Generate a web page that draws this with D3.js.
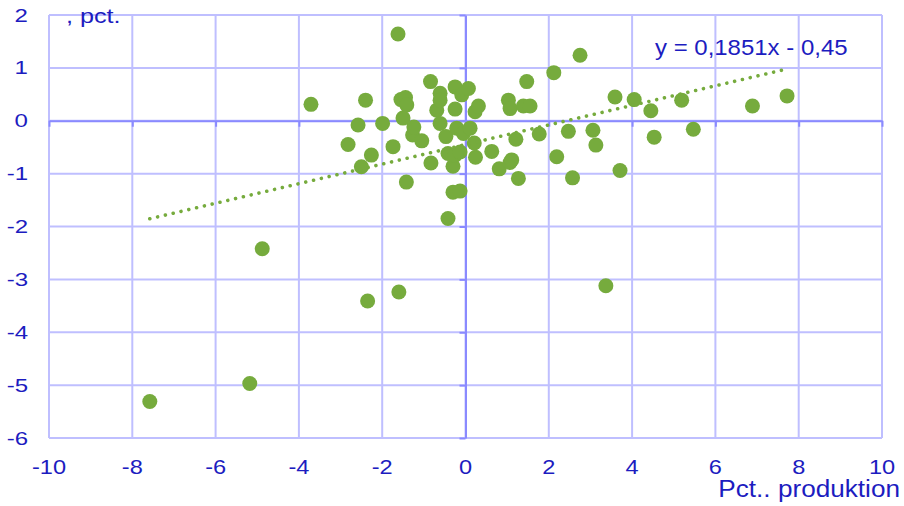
<!DOCTYPE html>
<html>
<head>
<meta charset="utf-8">
<script src="https://cdn.jsdelivr.net/npm/d3@7"></script>
<style>
  body { margin: 0; background: #fff; }
  text { font-family: "Liberation Sans", Arial, sans-serif; fill: #1c1cc0; }
</style>
</head>
<body>
<div id="chart"></div>
<script>
const MARGIN = { TOP: 15, BOTTOM: 68, LEFT: 49, RIGHT: 22 };
const WIDTH = 904;
const HEIGHT = 506;
const INNER_WIDTH = WIDTH - MARGIN.LEFT - MARGIN.RIGHT;
const INNER_HEIGHT = HEIGHT - MARGIN.TOP - MARGIN.BOTTOM;

// production change (x) vs. change (y), pct.
const xValues = [
    -7.58, -5.18, -4.88, -3.71, -2.82, -2.58, -2.50, -2.40, -2.35, -2.26,
    -1.99, -1.74, -1.62, -1.60, -1.55, -1.50, -1.44, -1.42, -1.41, -1.27,
    -1.24, -1.05, -0.84, -0.83, -0.69, -0.61, -0.61, -0.61, -0.47, -0.42,
    -0.42, -0.30, -0.30, -0.25, -0.25, -0.25, -0.21, -0.13, -0.13, -0.09,
    -0.05, 0.07, 0.11, 0.21, 0.23, 0.24, 0.31, 0.63, 0.81, 1.03,
    1.07, 1.07, 1.11, 1.21, 1.27, 1.39, 1.47, 1.55, 1.77, 2.12,
    2.19, 2.47, 2.57, 2.75, 3.06, 3.13, 3.37, 3.59, 3.71, 4.05,
    4.45, 4.53, 5.19, 5.47, 6.89, 7.72,
];
const yValues = [
    -5.31, -4.97, -2.42, 0.31, -0.45, -0.08, -0.87, 0.39, -3.41, -0.65,
    -0.05, -0.49, 1.64, -3.24, 0.40, 0.05, 0.44, -1.16, 0.30, -0.27,
    -0.12, -0.38, 0.74, -0.80, 0.20, 0.52, 0.39, -0.05, -0.30, -0.62,
    -1.85, -0.86, -1.35, 0.64, 0.22, -0.65, -0.14, -0.59, -1.33, 0.49,
    -0.24, 0.61, -0.14, -0.42, 0.17, -0.69, 0.28, -0.58, -0.91, 0.39,
    0.23, -0.79, -0.74, -0.35, -1.09, 0.28, 0.74, 0.28, -0.25, 0.91,
    -0.68, -0.20, -1.08, 1.24, -0.18, -0.46, -3.12, 0.45, -0.94, 0.40,
    0.19, -0.31, 0.39, -0.16, 0.28, 0.47,
];

const xTicks = [-10, -8, -6, -4, -2, 0, 2, 4, 6, 8, 10];
const yTicks = [-6, -5, -4, -3, -2, -1, 0, 1, 2];

// linear trendline shown on the chart
const SLOPE = 0.1851;
const INTERCEPT = -0.45;
const trendLabel = 'y = 0,1851x - 0,45';
const xTitle = 'Pct.. produktion';
const yTitle = ', pct.';

const GRID = '#bfbfff';
const AXIS = '#8a8aff';
const GREEN = '#76ab3d';

const data = xValues.map((x, i) => ({ x, y: yValues[i] }));

const xScale = d3.scaleLinear().domain([-10, 10]).range([0, INNER_WIDTH]);
const yScale = d3.scaleLinear().domain([-6, 2]).range([INNER_HEIGHT, 0]);

const svg = d3.select('#chart')
    .append('svg')
    .attr('width', WIDTH)
    .attr('height', HEIGHT);

const g = svg.append('g')
    .attr('transform', `translate(${MARGIN.LEFT}, ${MARGIN.TOP})`);

// grid
g.append('g').selectAll('line').data(xTicks).join('line')
    .attr('x1', (d) => xScale(d)).attr('x2', (d) => xScale(d))
    .attr('y1', 0).attr('y2', INNER_HEIGHT)
    .attr('stroke', GRID).attr('stroke-width', 2);

g.append('g').selectAll('line').data(yTicks).join('line')
    .attr('x1', 0).attr('x2', INNER_WIDTH)
    .attr('y1', (d) => yScale(d)).attr('y2', (d) => yScale(d))
    .attr('stroke', GRID).attr('stroke-width', 2);

// axes crossing at 0
const xAxisGroup = g.append('g')
    .attr('transform', `translate(0, ${yScale(0)})`)
    .call(d3.axisBottom(xScale).tickValues(xTicks).tickSize(6).tickSizeOuter(0).tickFormat(''));

const yAxisGroup = g.append('g')
    .attr('transform', `translate(${xScale(0)}, 0)`)
    .call(d3.axisLeft(yScale).tickValues(yTicks).tickSize(6).tickSizeOuter(0).tickFormat(''));

[xAxisGroup, yAxisGroup].forEach((axis) => {
    axis.selectAll('path, line').attr('stroke', AXIS).attr('stroke-width', 2);
});

// tick labels
g.append('g').selectAll('text').data(xTicks).join('text')
    .attr('transform', (d) => `translate(${xScale(d)}, ${INNER_HEIGHT + 35.5}) scale(1.15, 1)`)
    .attr('text-anchor', 'middle')
    .style('font-size', '20.5px')
    .text((d) => String(d));

g.append('g').selectAll('text').data(yTicks).join('text')
    .attr('transform', (d) => `translate(-21, ${yScale(d) + 6.5}) scale(1.3, 1)`)
    .attr('text-anchor', 'end')
    .style('font-size', '18.5px')
    .text((d) => String(d));

// titles
g.append('text')
    .attr('transform', `translate(${WIDTH - MARGIN.LEFT - 4}, ${INNER_HEIGHT + 58.5}) scale(1.09, 1)`)
    .attr('text-anchor', 'end')
    .style('font-size', '24px')
    .text(xTitle);

g.append('text')
    .attr('transform', `translate(17, 8) scale(1.2, 1)`)
    .style('font-size', '21px')
    .text(yTitle);

// points
g.append('g').selectAll('circle').data(data).join('circle')
    .attr('cx', (d) => xScale(d.x))
    .attr('cy', (d) => yScale(d.y))
    .attr('r', 7.5)
    .attr('fill', GREEN);

// dotted trendline over the data range
const [xMin, xMax] = d3.extent(xValues);
const lineGenerator = d3.line()
    .x((d) => xScale(d))
    .y((d) => yScale(SLOPE * d + INTERCEPT));

g.append('path')
    .attr('d', lineGenerator([xMin, xMax]))
    .attr('fill', 'none')
    .attr('stroke', GREEN)
    .attr('stroke-width', 3.6)
    .attr('stroke-linecap', 'round')
    .attr('stroke-dasharray', '0.01 8');

g.append('text')
    .attr('transform', `translate(${606}, ${40}) scale(1.1, 1)`)
    .style('font-size', '21.8px')
    .text(trendLabel);
</script>
</body>
</html>
